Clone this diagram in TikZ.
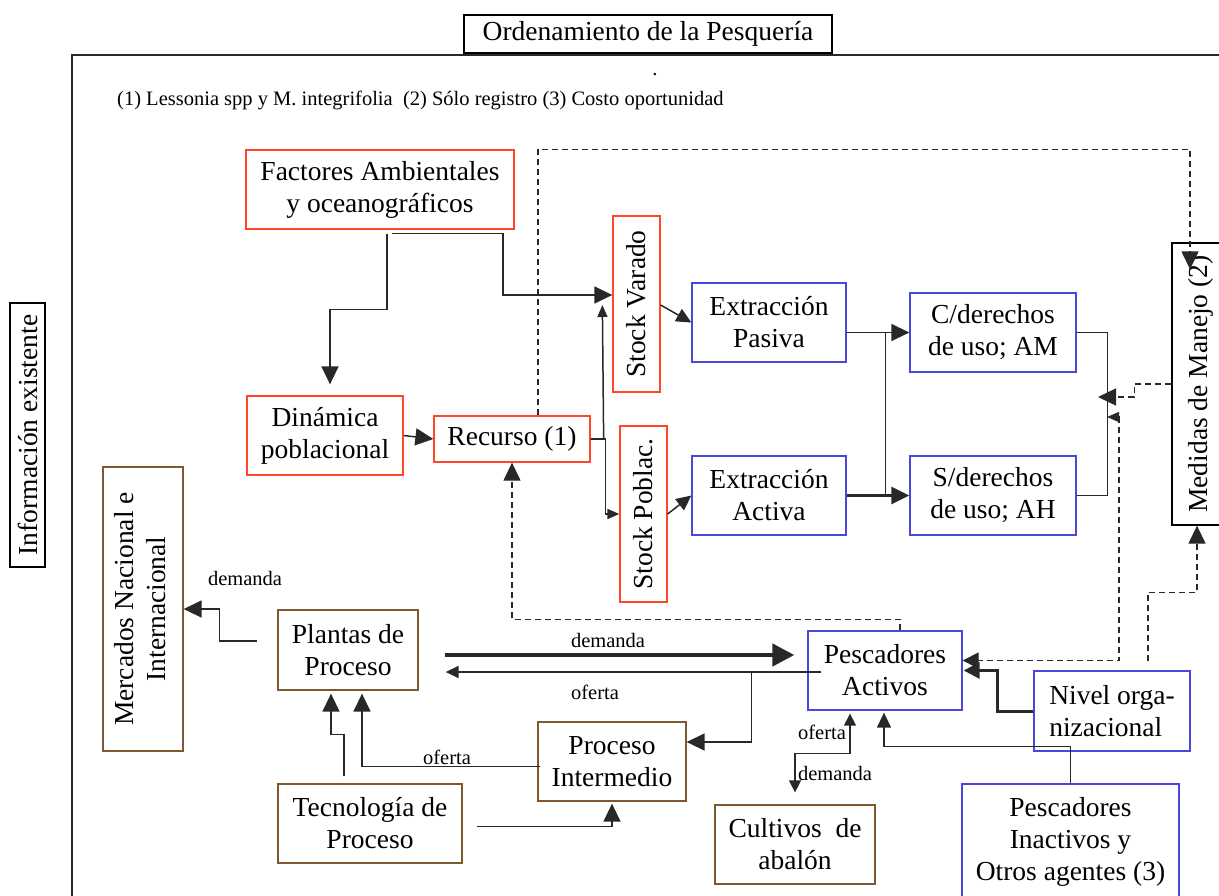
\documentclass[tikz,border=0pt]{standalone}
\usepackage{fontspec}
\setmainfont{Liberation Serif}
\usetikzlibrary{arrows.meta}
\newcommand{\fsBig}{\fontsize{27.5}{32}\selectfont}
\newcommand{\fsSmall}{\fontsize{20.5}{24}\selectfont}
\definecolor{boxred}{RGB}{255,72,40}
\definecolor{boxblue}{RGB}{72,72,220}
\definecolor{boxbrown}{RGB}{128,88,48}
\definecolor{wire}{RGB}{40,40,40}
\begin{document}
\begin{tikzpicture}[x=1pt,y=-1pt,
  box/.style={draw, line width=1.3pt, inner sep=0pt, align=center, font=\fsBig},
  blackbox/.style={box, draw=black},
  redbox/.style={box, draw=boxred},
  bluebox/.style={box, draw=boxblue},
  brownbox/.style={box, draw=boxbrown},
  conn/.style={draw=wire, line width=1.5pt},
  dsh/.style={draw=wire, line width=1.3pt, dash pattern=on 6pt off 4pt},
  big/.style={-{Triangle[length=18pt,width=17pt]}},
  mid/.style={-{Triangle[length=15pt,width=14pt]}},
  sml/.style={-{Triangle[length=12pt,width=10pt]}},
  lbl/.style={font=\fsSmall, inner sep=0pt},
]
\useasboundingbox (0,0) rectangle (1219,895);
\clip (0,0) rectangle (1219,895);

% frame of the fishery system
\draw[draw=wire, line width=2pt] (1230,55) -- (72,55) -- (72,905);

% headings and notes
\node[blackbox, minimum width=368pt, minimum height=38pt] (title) at (648,34) {Ordenamiento de la Pesquería};
\node[blackbox, minimum width=35pt, minimum height=264pt] (info) at (27.5,435) {\rotatebox{90}{Información existente}};
\node[lbl] (punto) at (655,75) {.};
\node[lbl, anchor=west] (nota) at (117,100) {(1) Lessonia spp y M. integrifolia\ \ (2) Sólo registro (3) Costo oportunidad};

% resource side
\node[redbox, minimum width=268pt, minimum height=79pt] (fa) at (380,189.5) {Factores Ambientales\\y oceanográficos};
\node[redbox, minimum width=156pt, minimum height=79pt] (dp) at (325,435.5) {Dinámica\\poblacional};
\node[redbox, minimum width=156pt, minimum height=46pt] (rec) at (512,439) {Recurso (1)};
\node[redbox, minimum width=47pt, minimum height=176pt] (sv) at (636.5,304) {\rotatebox{90}{Stock Varado}};
\node[redbox, minimum width=47pt, minimum height=176pt] (sp) at (643.5,514) {\rotatebox{90}{Stock Poblac.}};

% extraction and access
\node[bluebox, minimum width=154pt, minimum height=79pt] (ep) at (769,322.5) {Extracción\\Pasiva};
\node[bluebox, minimum width=154pt, minimum height=79pt] (ea) at (769,495.5) {Extracción\\Activa};
\node[bluebox, minimum width=166pt, minimum height=79pt] (cd) at (993,332.5) {C/derechos\\de uso; AM};
\node[bluebox, minimum width=166pt, minimum height=79pt] (sd) at (993,495.5) {S/derechos\\de uso; AH};
\node[blackbox, minimum width=58pt, minimum height=282pt] (mm) at (1201,384) {\rotatebox{90}{Medidas de Manejo (2)}};

% market side
\node[brownbox, minimum width=80pt, minimum height=284pt] (mni) at (143,609) {\rotatebox{90}{\begin{tabular}{@{}c@{}}Mercados Nacional e\\Internacional\end{tabular}}};
\node[brownbox, minimum width=140pt, minimum height=80pt] (pp) at (348,650) {Plantas de\\Proceso};
\node[brownbox, minimum width=184pt, minimum height=79pt] (tp) at (370,823.5) {Tecnología de\\Proceso};
\node[brownbox, minimum width=148pt, minimum height=79pt] (pi) at (612,761.5) {Proceso\\Intermedio};
\node[brownbox, minimum width=160pt, minimum height=79pt] (ca) at (795,844.5) {Cultivos\ \ de\\abalón};

% fishers
\node[bluebox, minimum width=154pt, minimum height=79pt] (pa) at (885,670.5) {Pescadores\\Activos};
\node[bluebox, minimum width=156pt, minimum height=80pt, align=left] (no) at (1112,711) {Nivel orga-\\nizacional};
\node[bluebox, minimum width=217pt, minimum height=116pt] (pin) at (1070.5,842) {Pescadores\\Inactivos y\\Otros agentes (3)};

% free ends on the rights bracket
\coordinate (t1) at (1098,397);
\coordinate (t2) at (1107,417);

% resource flows
\draw[conn,big] ([xshift=7pt,yshift=-4pt]fa.south) -- ++(0,76) -| ([xshift=5pt,yshift=11pt]dp.north);
\draw[conn,big] ([xshift=12pt,yshift=-4pt]fa.south) -- ++(111,0) |- ([yshift=9pt]sv.west);
\draw[conn,big] (dp.east) -- (rec.west);
\draw[conn,sml] (rec.east) -- ++(13,0) -- ([xshift=-10pt,yshift=-1pt]sv.west);
\draw[conn,sml] (rec.east) -- ++(15,0) |- (sp.west);
\draw[conn,mid] ([yshift=-1pt]sv.east) -- (ep.west);
\draw[conn,mid] (sp.east) -- (ea.west);
\draw[conn,big] (ep.east |- cd.west) -- (cd.west);
\draw[conn,big,line width=3pt] (ea.east) -- (sd.west);
\draw[conn] ([xshift=-24pt]cd.west) -- ([xshift=-24pt]sd.west);
\draw[conn] (cd.east) -- ++(31,0) |- (sd.east);

% management feedback (dashed)
\draw[dsh,big] (mm.west) -- ++(-37,0) |- (t1);
\draw[dsh,{Triangle[length=12pt,width=10pt]}-{Triangle[length=16pt,width=16pt]}] (t2) -- ++(12,0) |- ([yshift=10pt]pa.east);
\draw[dsh,big] ([xshift=36pt,yshift=9pt]no.north) -- ++(0,-69) -| ([xshift=-4pt]mm.south);
\draw[dsh,big] ([xshift=26pt]rec.north) -- ++(0,-266) -| ([xshift=-11pt,yshift=-27pt]mm.north);
\draw[dsh,big] ([xshift=15pt]pa.north) -- ++(0,-11) -| (rec.south);

% market flows
\draw[conn,line width=4.5pt,-{Triangle[length=22pt,width=22pt]}] ([xshift=26pt,yshift=-5pt]pp.east) -- ([xshift=-13pt,yshift=15.5pt]pa.west);
\draw[conn,-{Triangle[length=13pt,width=12pt]}] ([xshift=14pt,yshift=-1.5pt]pa.west) -- ([xshift=27pt,yshift=-22pt]pp.east);
\draw[conn,big] ([xshift=-56pt,yshift=-1.5pt]pa.west) |- ([yshift=19.5pt]pi.east);
\draw[conn,big] ([xshift=3pt,yshift=-5pt]pi.west) -| ([xshift=14pt,yshift=-3pt]pp.south);
\draw[conn,big] ([xshift=-26pt,yshift=7pt]tp.north) -- ++(0,-42) -| ([xshift=-17pt,yshift=-3pt]pp.south);
\draw[conn,big] ([xshift=14pt,yshift=-3pt]tp.east) -| ([yshift=-2pt]pi.south);
\draw[conn,big] ([xshift=-20pt,yshift=9pt]pp.west) -- ++(-38,0) |- (mni.east);
\draw[conn,{Triangle[length=12pt,width=12pt]}-{Triangle[length=12pt,width=12pt]}] ([xshift=-35pt,yshift=-3pt]pa.south) -- ++(0,40) -| ([yshift=12pt]ca.north);

% fishers organisation
\draw[conn,mid] (pin.north) -- ++(0,-37) -| ([xshift=-1pt,yshift=-2pt]pa.south);
\draw[conn,line width=3pt,-{Triangle[length=16pt,width=16pt]}] (no.west) -- ++(-36,0) |- ([xshift=1pt]pa.east);

% flow labels
\node[lbl] (l1) at (245,578) {demanda};
\node[lbl] (l2) at (608,640) {demanda};
\node[lbl] (l3) at (595,692) {oferta};
\node[lbl] (l4) at (447,757) {oferta};
\node[lbl] (l5) at (822,732) {oferta};
\node[lbl] (l6) at (835,773) {demanda};
\end{tikzpicture}
\end{document}
